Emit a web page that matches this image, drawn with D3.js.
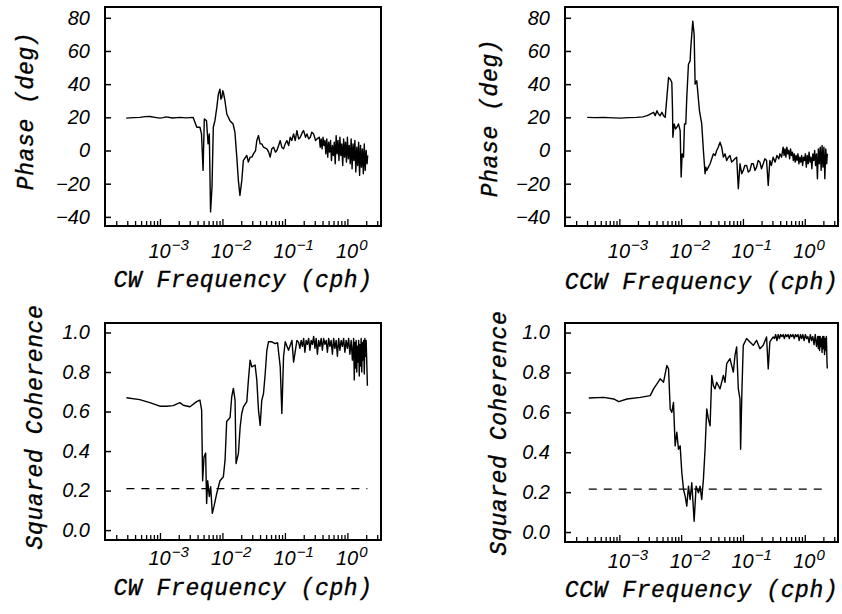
<!DOCTYPE html>
<html>
<head>
<meta charset="utf-8">
<script src="https://cdnjs.cloudflare.com/ajax/libs/d3/7.8.5/d3.min.js"></script>
<style>
  body { margin: 0; background: #fff; }
  .num { font-family: "Liberation Sans", sans-serif; font-style: italic; font-size: 20px; fill: #000; }
  .title { font-family: "Liberation Mono", monospace; font-style: italic; font-size: 23px; letter-spacing: 0.6px;
           fill: #000; stroke: #000; stroke-width: 0.35px; }
</style>
</head>
<body>
<div id="chart"></div>
<script>
// [log10 frequency (cph), value]
const cwPhase = [
  [-3.54,19.5],[-3.42,19.8],[-3.32,20],[-3.24,20.4],[-3.16,20.5],[-3.08,20],[-3.0,19.5],[-2.95,19.8],[-2.9,20.3],
  [-2.8,19.6],[-2.68,20],[-2.58,19.7],[-2.47,20],[-2.44,17],[-2.41,14],[-2.36,14],[-2.335,10],[-2.31,-12],[-2.29,19],
  [-2.255,18],[-2.23,4],[-2.21,10],[-2.19,-37],[-2.167,-22],[-2.146,14],[-2.12,18],[-2.09,26],[-2.065,34],[-2.04,37],
  [-2.025,31],[-2.01,32],[-1.995,36],[-1.985,35],[-1.96,30],[-1.93,22],[-1.88,18],[-1.83,16],[-1.8,11],[-1.77,-4],
  [-1.745,-18],[-1.72,-27],[-1.69,-18],[-1.665,-6],[-1.61,-3],[-1.585,-7],[-1.557,-4],[-1.53,-4],[-1.503,-2],[-1.47,0],
  [-1.45,6],[-1.423,9],[-1.396,4],[-1.37,4],[-1.343,2],[-1.289,1],[-1.26,-1],[-1.236,-4],[-1.21,1],[-1.182,2],
  [-1.15,-1],[-1.129,0],[-1.1,3],[-1.075,6],[-1.05,2],[-1.022,1],[-0.995,4],[-0.968,6],[-0.94,3],[-0.915,8],
  [-0.89,6],[-0.861,10],[-0.835,6],[-0.808,12],[-0.78,7],[-0.754,8],[-0.72,11],[-0.701,12],[-0.67,8],[-0.647,10],
  [-0.62,7],[-0.594,8],[-0.57,11],[-0.54,10],[-0.51,6],[-0.487,7],
  [-0.45,8],[-0.435,2],[-0.42,7],[-0.405,1],[-0.39,8],[-0.375,3],[-0.36,6],[-0.345,-2],[-0.33,7],[-0.315,-4],
  [-0.3,5],[-0.285,-1],[-0.27,6],[-0.255,-6],[-0.24,3],[-0.225,-3],[-0.21,5],[-0.195,-8],[-0.18,9],[-0.165,-2],
  [-0.15,6],[-0.135,-6],[-0.12,8],[-0.105,-3],[-0.09,4],[-0.075,-9],[-0.06,7],[-0.045,-4],[-0.03,5],[-0.015,-7],
  [0,8],[0.015,-5],[0.03,3],[0.045,-8],[0.06,7],[0.075,-11],[0.09,4],[0.105,-6],[0.12,6],[0.135,-13],
  [0.15,2],[0.165,-9],[0.18,5],[0.195,-15],[0.21,3],[0.225,-10],[0.24,1],[0.255,-14],[0.27,4],[0.285,-12],
  [0.3,0],[0.315,-8],[0.325,-3]
];

const ccwPhase = [
  [-3.52,20],[-3.4,19.8],[-3.25,20],[-3.1,19.7],[-2.98,19.5],[-2.85,19.8],[-2.72,20],[-2.62,20.3],[-2.55,21],[-2.5,22],
  [-2.446,23],[-2.42,21],[-2.392,24],[-2.366,22],[-2.34,21],[-2.312,23],[-2.285,21],[-2.258,20],[-2.231,32],[-2.204,44],
  [-2.177,43],[-2.151,41],[-2.14,25],[-2.134,8],[-2.113,16],[-2.09,13],[-2.07,14],[-2.043,16],[-2.016,12],[-2.0,-16],
  [-1.984,-2],[-1.962,-4],[-1.946,16],[-1.925,16],[-1.909,32],[-1.882,52],[-1.855,54],[-1.844,62],[-1.812,78],[-1.79,70],
  [-1.774,40],[-1.747,42],[-1.704,24],[-1.667,16],[-1.64,0],[-1.613,-14],[-1.6,-10],[-1.586,-12],[-1.559,-10],[-1.532,-8],
  [-1.505,-5],[-1.478,-2],[-1.45,-3],[-1.425,0],[-1.4,2],[-1.371,5],[-1.344,2],[-1.317,-4],[-1.29,-2],[-1.263,-6],
  [-1.235,-4],[-1.21,-3],[-1.183,-7],[-1.156,-6],[-1.13,-5],[-1.102,-4],[-1.075,-23],[-1.048,-8],[-1.02,-14],[-0.995,-12],
  [-0.97,-9],[-0.941,-9],[-0.914,-13],[-0.887,-12],[-0.86,-8],[-0.833,-8],[-0.806,-12],[-0.78,-10],[-0.753,-6],[-0.726,-7],
  [-0.7,-11],[-0.672,-8],[-0.645,-5],[-0.618,-6],[-0.591,-21],[-0.565,-6],[-0.54,-9],[-0.511,-4],[-0.48,-7],[-0.45,-3],
  [-0.42,-5],[-0.403,-2],[-0.375,-4],
  [-0.35,2],[-0.335,-3],[-0.32,1],[-0.305,-4],[-0.29,2],[-0.275,-2],[-0.26,0],[-0.245,-5],[-0.23,1],[-0.215,-3],
  [-0.2,-1],[-0.185,-6],[-0.17,-2],[-0.155,-7],[-0.14,-3],[-0.125,-6],[-0.11,-2],[-0.095,-8],[-0.08,-4],[-0.065,-7],
  [-0.05,-3],[-0.035,-9],[-0.02,-4],[-0.005,-6],[0.01,-2],[0.025,-10],[0.04,-3],[0.055,-8],[0.07,-1],[0.085,-7],
  [0.1,-4],[0.115,-11],[0.13,-2],[0.145,-6],[0.16,0],[0.175,-9],[0.19,-2],[0.205,-17],[0.22,1],[0.235,-8],
  [0.25,2],[0.265,-12],[0.28,3],[0.295,-10],[0.31,2],[0.325,-17],[0.34,1],[0.355,-8],[0.365,-2]
];

const cwCoh = [
  [-3.537,0.67],[-3.323,0.66],[-3.162,0.645],[-3.002,0.627],[-2.895,0.627],[-2.788,0.63],[-2.681,0.645],[-2.627,0.632],
  [-2.52,0.624],[-2.413,0.65],[-2.36,0.658],[-2.333,0.607],[-2.317,0.25],[-2.295,0.37],[-2.269,0.39],[-2.253,0.135],
  [-2.236,0.25],[-2.21,0.17],[-2.188,0.22],[-2.162,0.085],[-2.135,0.12],[-2.092,0.185],[-2.039,0.25],[-1.985,0.27],
  [-1.958,0.354],[-1.932,0.55],[-1.878,0.57],[-1.851,0.675],[-1.825,0.717],[-1.798,0.658],[-1.782,0.337],[-1.744,0.39],
  [-1.717,0.52],[-1.691,0.59],[-1.664,0.624],[-1.61,0.65],[-1.584,0.76],[-1.557,0.86],[-1.53,0.826],[-1.477,0.835],
  [-1.45,0.76],[-1.423,0.607],[-1.396,0.53],[-1.37,0.658],[-1.343,0.69],[-1.316,0.79],[-1.289,0.91],[-1.263,0.953],
  [-1.209,0.953],[-1.156,0.944],[-1.118,0.948],[-1.075,0.826],[-1.049,0.59],[-1.022,0.877],[-0.995,0.953],[-0.942,0.91],
  [-0.888,0.96],[-0.861,0.85],[-0.808,0.96],
  [-0.78,0.95],[-0.76,0.92],[-0.74,0.96],[-0.72,0.93],[-0.7,0.97],[-0.68,0.9],[-0.66,0.96],[-0.64,0.94],[-0.62,0.97],
  [-0.6,0.91],[-0.58,0.96],[-0.56,0.94],[-0.54,0.98],[-0.52,0.92],[-0.5,0.97],[-0.48,0.89],[-0.46,0.96],[-0.44,0.93],
  [-0.42,0.97],[-0.4,0.91],[-0.38,0.97],[-0.36,0.94],[-0.34,0.96],[-0.32,0.9],[-0.3,0.97],[-0.28,0.93],[-0.26,0.96],
  [-0.24,0.89],[-0.22,0.97],[-0.2,0.92],[-0.18,0.96],[-0.16,0.88],[-0.14,0.97],[-0.12,0.91],[-0.1,0.96],[-0.08,0.93],
  [-0.06,0.97],[-0.04,0.9],[-0.02,0.96],[0,0.92],[0.02,0.97],[0.04,0.89],[0.06,0.96],[0.08,0.86],[0.1,0.97],
  [0.11,0.76],[0.12,0.95],[0.13,0.82],[0.14,0.96],[0.15,0.8],[0.16,0.93],[0.17,0.85],[0.18,0.96],[0.19,0.78],
  [0.2,0.94],[0.21,0.83],[0.22,0.97],[0.23,0.8],[0.24,0.95],[0.25,0.86],[0.26,0.96],[0.27,0.79],[0.28,0.97],
  [0.29,0.88],[0.3,0.96],[0.31,0.85],[0.32,0.73]
];

const ccwCoh = [
  [-3.495,0.672],[-3.253,0.675],[-3.091,0.667],[-3.011,0.654],[-2.876,0.667],[-2.661,0.675],[-2.5,0.684],[-2.446,0.718],
  [-2.392,0.743],[-2.339,0.768],[-2.285,0.751],[-2.231,0.835],[-2.204,0.818],[-2.177,0.617],[-2.151,0.6],[-2.124,0.65],
  [-2.097,0.432],[-2.07,0.5],[-2.043,0.415],[-2.016,0.432],[-1.989,0.297],[-1.962,0.213],[-1.935,0.18],[-1.909,0.13],
  [-1.882,0.23],[-1.855,0.163],[-1.828,0.247],[-1.79,0.054],[-1.758,0.23],[-1.72,0.197],[-1.694,0.23],[-1.667,0.163],
  [-1.64,0.264],[-1.613,0.415],[-1.586,0.617],[-1.559,0.566],[-1.532,0.533],[-1.505,0.785],[-1.478,0.734],[-1.452,0.718],
  [-1.425,0.751],[-1.371,0.718],[-1.317,0.785],[-1.29,0.751],[-1.263,0.844],[-1.21,0.869],[-1.156,0.802],[-1.129,0.886],
  [-1.102,0.928],[-1.075,0.718],[-1.048,0.667],[-1.038,0.415],[-1.016,0.718],[-0.995,0.936],[-0.941,0.97],[-0.887,0.953],
  [-0.833,0.936],[-0.78,0.961],[-0.726,0.919],[-0.672,0.936],[-0.618,0.978],[-0.591,0.818],[-0.565,0.953],[-0.511,0.978],
  [-0.49,0.97],[-0.47,0.99],[-0.45,0.96],[-0.43,0.99],[-0.41,0.97],[-0.39,0.99],[-0.37,0.98],[-0.35,0.99],[-0.33,0.97],
  [-0.31,0.99],[-0.29,0.98],[-0.27,0.99],[-0.25,0.97],[-0.23,0.99],[-0.21,0.98],[-0.19,0.99],[-0.17,0.97],[-0.15,0.99],
  [-0.13,0.98],[-0.11,0.99],[-0.09,0.96],[-0.07,0.99],[-0.05,0.97],[-0.03,0.99],[-0.01,0.96],[0.01,0.99],[0.03,0.97],
  [0.05,0.98],[0.07,0.95],[0.09,0.99],[0.11,0.96],[0.13,0.98],[0.15,0.94],[0.17,0.99],[0.19,0.93],[0.21,0.98],
  [0.22,0.92],[0.23,0.98],[0.24,0.91],[0.25,0.98],[0.26,0.93],[0.27,0.97],[0.28,0.9],[0.29,0.98],[0.3,0.92],
  [0.31,0.98],[0.32,0.89],[0.33,0.97],[0.34,0.91],[0.35,0.98],[0.36,0.85],[0.365,0.82]
];

const phaseTicks = [-40, -20, 0, 20, 40, 60, 80];
const cohTicks = [0, 0.2, 0.4, 0.6, 0.8, 1.0];
const decades = [-3, -2, -1, 0];
const cwConf = 0.21, ccwConf = 0.215;   // 95% level (dashed)

const W = 842, H = 614;
const svg = d3.select("#chart").append("svg")
              .attr("width", W)
              .attr("height", H);

const xDomain = [1.32e-4, 3.45];

const panels = [
  {x: 105, y: 7,   w: 276, h: 219, data: cwPhase,  yDomain: [-45.5, 86.5], ticks: phaseTicks, fmt: d3.format("d"),
   ytitle: "Phase (deg)", xtitle: "CW Frequency (cph)", yt: [-72, 104], lab: 32, tit: 61},
  {x: 565, y: 7,   w: 273, h: 219, data: ccwPhase, yDomain: [-45.5, 86.5], ticks: phaseTicks, fmt: d3.format("d"),
   ytitle: "Phase (deg)", xtitle: "CCW Frequency (cph)", yt: [-68, 111], lab: 32, tit: 63},
  {x: 105, y: 323, w: 276, h: 217, data: cwCoh,  yDomain: [-0.05, 1.048], ticks: cohTicks, fmt: d3.format(".1f"),
   ytitle: "Squared Coherence", xtitle: "CW Frequency (cph)", yt: [-63, 104], lab: 25, tit: 55, conf: cwConf},
  {x: 565, y: 323, w: 273, h: 219, data: ccwCoh, yDomain: [-0.05, 1.048], ticks: cohTicks, fmt: d3.format(".1f"),
   ytitle: "Squared Coherence", xtitle: "CCW Frequency (cph)", yt: [-59, 110], lab: 26, tit: 55, conf: ccwConf}
];

panels.forEach(p => {
  const g = svg.append("g").attr("transform", `translate(${p.x},${p.y})`);

  const x = d3.scaleLog().domain(xDomain).range([0, p.w]);
  const y = d3.scaleLinear().domain(p.yDomain).range([p.h, 0]);

  // y axis: ticks pointing inward
  const ya = g.append("g")
     .call(d3.axisLeft(y).tickValues(p.ticks).tickSizeInner(-6).tickSizeOuter(0).tickPadding(15).tickFormat(p.fmt));
  ya.select(".domain").remove();
  ya.selectAll("line").attr("stroke-width", 1.5);
  ya.selectAll("text").attr("class", "num");

  // x axis: log minor ticks pointing inward
  const xa = g.append("g")
     .attr("transform", `translate(0,${p.h})`)
     .call(d3.axisBottom(x).tickValues(x.ticks()).tickSizeInner(-5).tickSizeOuter(0).tickFormat(""));
  xa.select(".domain").remove();
  xa.selectAll("line")
    .attr("stroke-width", 1.3)
    .attr("y2", d => Math.abs(Math.log10(d) - Math.round(Math.log10(d))) < 1e-6 ? -7 : -5);

  // decade labels, "10" centred on the tick
  decades.forEach(e => {
    const t = g.append("text")
               .attr("class", "num")
               .attr("x", x(Math.pow(10, e)) - 11.5)
               .attr("y", p.h + p.lab);
    t.append("tspan").text("10");
    t.append("tspan")
     .attr("dx", 1)
     .attr("dy", -8)
     .style("font-size", "15px")
     .text(e === 0 ? "0" : "\u2212" + (-e));
  });

  if (p.conf !== undefined) {
    const ext = d3.extent(p.data, d => Math.pow(10, d[0]));
    g.append("line")
     .attr("x1", x(ext[0])).attr("x2", x(ext[1]))
     .attr("y1", y(p.conf)).attr("y2", y(p.conf))
     .attr("stroke", "#000")
     .attr("stroke-width", 1.3)
     .attr("stroke-dasharray", "8,7");
  }

  const line = d3.line()
                 .x(d => x(Math.pow(10, d[0])))
                 .y(d => y(d[1]));

  g.append("path")
   .datum(p.data)
   .attr("d", line)
   .attr("fill", "none")
   .attr("stroke", "#000")
   .attr("stroke-width", 1.4)
   .attr("stroke-linejoin", "round");

  g.append("rect")
   .attr("width", p.w)
   .attr("height", p.h)
   .attr("fill", "none")
   .attr("stroke", "#000")
   .attr("stroke-width", 2);

  g.append("text")
   .attr("class", "title")
   .attr("x", p.w / 2)
   .attr("y", p.h + p.tit)
   .attr("text-anchor", "middle")
   .text(p.xtitle);

  g.append("text")
   .attr("class", "title")
   .attr("transform", `translate(${p.yt[0]},${p.yt[1]}) rotate(-90)`)
   .attr("text-anchor", "middle")
   .text(p.ytitle);
});
</script>
</body>
</html>
